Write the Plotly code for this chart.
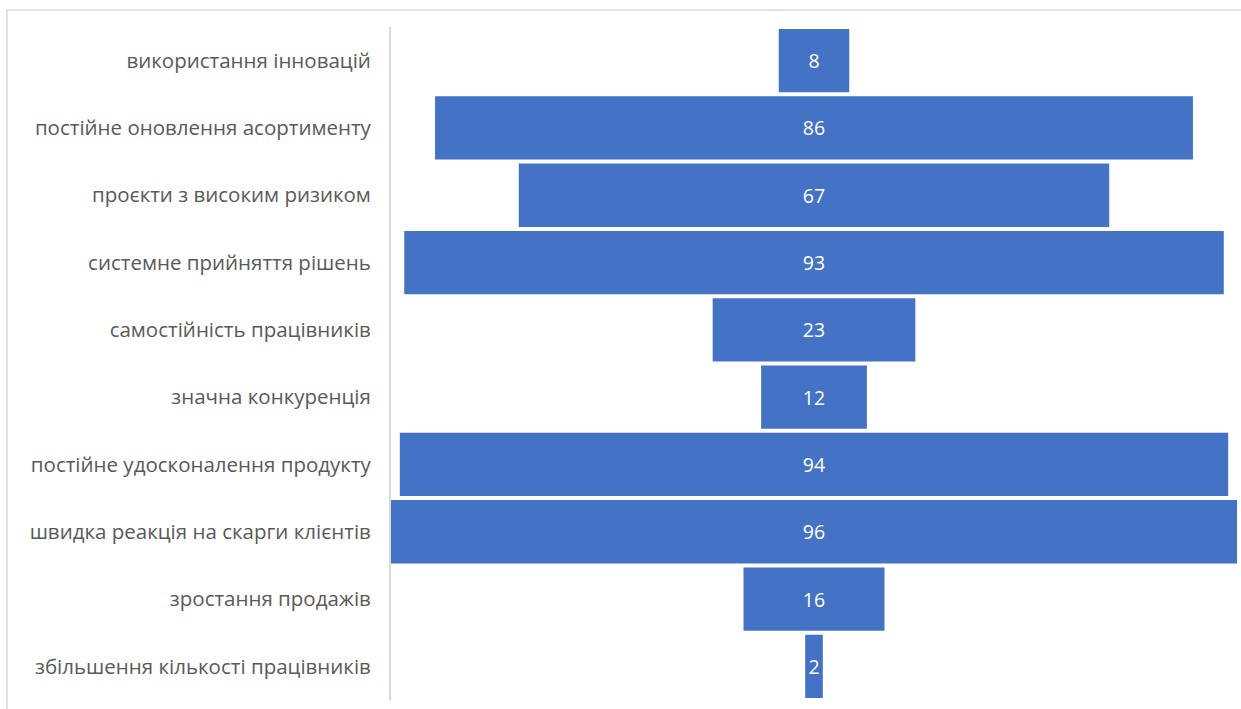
import plotly.graph_objects as go

# Categories (top to bottom) and their values
categories = [
    "використання інновацій",
    "постійне оновлення асортименту",
    "проєкти з високим ризиком",
    "системне прийняття рішень",
    "самостійність працівників",
    "значна конкуренція",
    "постійне удосконалення продукту",
    "швидка реакція на скарги клієнтів",
    "зростання продажів",
    "збільшення кількості працівників",
]
values = [8, 86, 67, 93, 23, 12, 94, 96, 16, 2]

W, H = 1241, 709
ML, MR, MT, MB = 391, 4, 27, 9
plot_w = W - ML - MR
plot_h = H - MT - MB

fig = go.Figure(
    go.Funnel(
        y=categories,
        x=values,
        textinfo="value",
        textposition="inside",
        insidetextanchor="middle",
        textfont=dict(color="white", size=19.5, family="Open Sans"),
        marker=dict(color="#4472C4", line=dict(width=0)),
        connector=dict(visible=False),
        hoverinfo="y+x",
    )
)

half = max(values) / 2
fig.update_layout(
    width=W,
    height=H,
    margin=dict(l=ML, r=MR, t=MT, b=MB),
    paper_bgcolor="white",
    plot_bgcolor="white",
    showlegend=False,
    funnelgap=0.06,
    font=dict(family="Open Sans", color="#595959"),
    xaxis=dict(
        range=[-half, half],
        visible=False,
        fixedrange=True,
    ),
    yaxis=dict(
        autorange="reversed",
        showline=True,
        linecolor="#d9d9d9",
        linewidth=2,
        ticks="",
        ticklabelstandoff=14,
        tickfont=dict(size=20.5, color="#595959", family="Open Sans"),
        showgrid=False,
    ),
)

# Light frame around the chart area
x0 = (7 - ML) / plot_w
x1 = (W + 5 - ML) / plot_w
y_top = (H - MB - 10) / plot_h
y_bot = (H - MB - (H + 5)) / plot_h
fig.add_shape(
    type="rect",
    xref="paper", yref="paper",
    x0=x0, x1=x1, y0=y_bot, y1=y_top,
    line=dict(color="#d9d9d9", width=1.5),
    fillcolor="rgba(0,0,0,0)",
    layer="below",
)

fig.write_html("out.html")
